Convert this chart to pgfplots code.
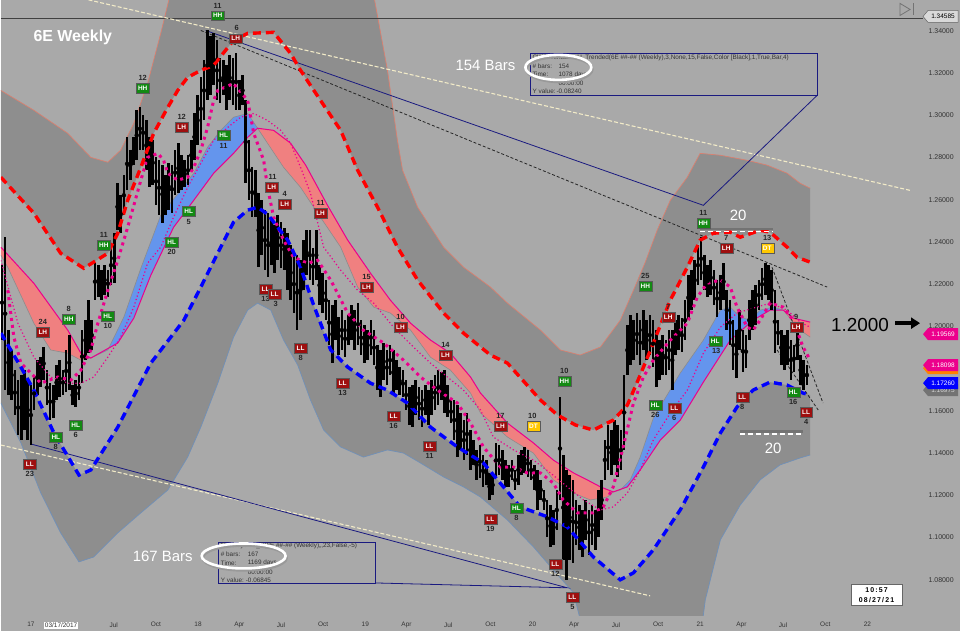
\documentclass[border=0pt]{standalone}
\usepackage{pgfplots}
\pgfplotsset{compat=1.18}
\usepackage{pgfplotstable}
\usepgfplotslibrary{fillbetween}
\usetikzlibrary{arrows.meta}
\usepackage{fontspec}
\setmainfont{Liberation Sans}

\definecolor{bgc}{HTML}{A9A9A9}
\definecolor{band}{HTML}{8E8E8E}
\definecolor{cloudpink}{HTML}{F08080}
\definecolor{cloudblue}{HTML}{6495ED}
\definecolor{tagg}{HTML}{138A13}
\definecolor{tagr}{HTML}{9E0F0F}
\definecolor{tagy}{HTML}{FFC800}
\definecolor{navy}{HTML}{1A1A80}
\definecolor{cream}{HTML}{F2EBC8}
\definecolor{salmon}{HTML}{D98070}
\definecolor{steel}{HTML}{7090B8}

\tikzset{fill between/on layer=main}

% weekly bars: week index (0 = 1 Jan 2017), high, low
\pgfplotstableread{
w hi lo
-9 1.2290 1.1935
-8 1.2422 1.1698
-7 1.1982 1.1675
-6 1.1888 1.1651
-5 1.1793 1.1580
-4 1.1746 1.1485
-3 1.1769 1.1462
-2 1.1793 1.1509
-1 1.1746 1.1462
0 1.1722 1.1438
1 1.1760 1.1604
2 1.1840 1.1675
3 1.1854 1.1712
4 1.1902 1.1746
5 1.1793 1.1627
6 1.1731 1.1556
7 1.1722 1.1566
8 1.1817 1.1651
9 1.1840 1.1665
10 1.1793 1.1675
11 1.1888 1.1689
12 1.1958 1.1698
13 1.1722 1.1627
14 1.1746 1.1618
15 1.1769 1.1651
16 1.1982 1.1731
17 1.2029 1.1840
18 1.2124 1.1873
19 1.2029 1.1888
20 1.2299 1.2124
21 1.2290 1.2138
22 1.2266 1.2124
23 1.2290 1.2148
24 1.2266 1.2138
25 1.2384 1.2195
26 1.2441 1.2204
27 1.2677 1.2455
28 1.2621 1.2441
29 1.2715 1.2526
30 1.2895 1.2644
31 1.2834 1.2692
32 1.2895 1.2763
33 1.3023 1.2786
34 1.3037 1.2834
35 1.2999 1.2834
36 1.2975 1.2739
37 1.2895 1.2658
38 1.2881 1.2668
39 1.2800 1.2573
40 1.2786 1.2526
41 1.2763 1.2488
42 1.2715 1.2526
43 1.2772 1.2550
44 1.2763 1.2536
45 1.2834 1.2621
46 1.2867 1.2630
47 1.2810 1.2644
48 1.2786 1.2658
49 1.2810 1.2668
50 1.2881 1.2739
51 1.3008 1.2786
52 1.3094 1.2857
53 1.3179 1.2881
54 1.3259 1.2975
55 1.3401 1.3070
56 1.3377 1.3094
57 1.3387 1.3141
58 1.3354 1.3070
59 1.3273 1.3056
60 1.3259 1.3094
61 1.3236 1.3023
62 1.3283 1.3070
63 1.3269 1.3046
64 1.3292 1.3023
65 1.3165 1.3023
66 1.3188 1.3046
67 1.3070 1.2677
68 1.2881 1.2597
69 1.2753 1.2517
70 1.2739 1.2517
71 1.2630 1.2280
72 1.2597 1.2337
73 1.2550 1.2266
74 1.2536 1.2233
75 1.2502 1.2290
76 1.2479 1.2252
77 1.2526 1.2313
78 1.2493 1.2275
79 1.2465 1.2266
80 1.2441 1.2171
81 1.2384 1.2124
82 1.2337 1.2063
83 1.2337 1.1982
84 1.2313 1.2029
85 1.2408 1.2171
86 1.2455 1.2242
87 1.2455 1.2219
88 1.2370 1.2195
89 1.2455 1.2219
90 1.2290 1.2100
91 1.2252 1.2063
92 1.2219 1.2029
93 1.2124 1.1911
94 1.2100 1.1826
95 1.2124 1.1935
96 1.2044 1.1864
97 1.2077 1.1888
98 1.2029 1.1854
99 1.2053 1.1911
100 1.2100 1.1935
101 1.2077 1.1888
102 1.2110 1.1911
103 1.2029 1.1864
104 1.2006 1.1826
105 1.1982 1.1840
106 1.2029 1.1864
107 1.1982 1.1817
108 1.1911 1.1698
109 1.1888 1.1665
110 1.1921 1.1746
111 1.1888 1.1722
112 1.1911 1.1769
113 1.1888 1.1675
114 1.1840 1.1698
115 1.1807 1.1675
116 1.1793 1.1665
117 1.1746 1.1604
118 1.1712 1.1533
119 1.1722 1.1523
120 1.1746 1.1580
121 1.1712 1.1556
122 1.1698 1.1523
123 1.1722 1.1580
124 1.1698 1.1533
125 1.1746 1.1580
126 1.1769 1.1604
127 1.1793 1.1627
128 1.1784 1.1651
129 1.1793 1.1590
130 1.1722 1.1571
131 1.1651 1.1542
132 1.1651 1.1462
133 1.1627 1.1381
134 1.1590 1.1415
135 1.1556 1.1367
136 1.1590 1.1391
137 1.1509 1.1320
138 1.1462 1.1344
139 1.1415 1.1273
140 1.1438 1.1282
141 1.1391 1.1240
142 1.1367 1.1249
143 1.1306 1.1178
144 1.1296 1.1202
145 1.1448 1.1282
146 1.1438 1.1296
147 1.1415 1.1273
148 1.1367 1.1240
149 1.1344 1.1240
150 1.1367 1.1273
151 1.1320 1.1225
152 1.1391 1.1249
153 1.1415 1.1296
154 1.1429 1.1306
155 1.1415 1.1287
156 1.1367 1.1273
157 1.1344 1.1225
158 1.1320 1.1131
159 1.1273 1.1178
160 1.1225 1.1131
161 1.1178 1.1003
162 1.1154 1.0956
163 1.1131 1.0965
164 1.1225 1.1036
165 1.1665 1.1178
166 1.1391 1.0894
167 1.1320 1.0800
168 1.1296 1.0894
169 1.1273 1.0880
170 1.1178 1.0965
171 1.1154 1.0942
172 1.1131 1.0908
173 1.1178 1.0989
174 1.1131 1.0918
175 1.1154 1.0965
176 1.1131 1.0942
177 1.1225 1.1003
178 1.1273 1.1083
179 1.1462 1.1273
180 1.1533 1.1320
181 1.1509 1.1296
182 1.1556 1.1344
183 1.1533 1.1287
184 1.1509 1.1320
185 1.1769 1.1415
186 1.2006 1.1769
187 1.2053 1.1817
188 1.2029 1.1840
189 1.2063 1.1864
190 1.2029 1.1817
191 1.2077 1.1888
192 1.2029 1.1840
193 1.2053 1.1864
194 1.2029 1.1807
195 1.1982 1.1712
196 1.1935 1.1746
197 1.1958 1.1769
198 1.1935 1.1769
199 1.1982 1.1793
200 1.1982 1.1698
201 1.2029 1.1864
202 1.2053 1.1888
203 1.2039 1.1878
204 1.2124 1.1935
205 1.2242 1.2029
206 1.2266 1.2077
207 1.2313 1.2124
208 1.2384 1.2195
209 1.2422 1.2219
210 1.2337 1.2171
211 1.2290 1.2138
212 1.2313 1.2148
213 1.2266 1.2100
214 1.2219 1.2044
215 1.2242 1.2077
216 1.2299 1.2124
217 1.2171 1.1982
218 1.2124 1.1911
219 1.2029 1.1793
220 1.1982 1.1755
221 1.2077 1.1888
222 1.1982 1.1784
223 1.1958 1.1802
224 1.2124 1.1935
225 1.2171 1.1982
226 1.2195 1.2006
227 1.2219 1.2077
228 1.2275 1.2124
229 1.2299 1.2148
230 1.2290 1.2124
231 1.2266 1.2077
232 1.2171 1.1873
233 1.2029 1.1911
234 1.1982 1.1817
235 1.1958 1.1793
236 1.1982 1.1817
237 1.1935 1.1746
238 1.1911 1.1784
239 1.1982 1.1840
240 1.1864 1.1722
241 1.1840 1.1698
242 1.1817 1.1722
}\bars

% upper band (red dashed)
\pgfplotstableread{
w p
-9.35 1.2706
0.93 1.2536
9.3 1.2346
16.5 1.2275
24.0 1.2346
27.1 1.2441
30.2 1.2597
34.3 1.2753
38.3 1.2914
42.7 1.3037
45.8 1.3117
48.9 1.3179
53.0 1.3212
57.0 1.3236
63.2 1.3354
67.6 1.3387
75.7 1.3392
81.0 1.3292
84.1 1.3212
90.3 1.3070
96.6 1.2928
101.9 1.2739
108.1 1.2564
114.3 1.2375
120.6 1.2219
128.7 1.2063
134.9 1.1968
143.3 1.1864
148.6 1.1826
158.9 1.1651
164.2 1.1580
169.8 1.1533
175.4 1.1509
181.6 1.1556
186.0 1.1627
190.0 1.1769
194.1 1.1921
199.4 1.2124
204.7 1.2280
208.7 1.2408
212.8 1.2441
218.1 1.2446
221.2 1.2422
227.4 1.2455
230.5 1.2446
235.8 1.2375
238.9 1.2327
243.0 1.2304
}\redband

% lower band (blue dashed)
\pgfplotstableread{
w p
-9.35 1.1968
-3.1 1.1807
0.93 1.1698
7.2 1.1495
15.0 1.1296
18.7 1.1320
27.1 1.1523
37.4 1.1826
47.7 1.2029
53.0 1.2186
59.2 1.2375
63.2 1.2493
67.6 1.2550
70.7 1.2564
73.8 1.2531
80.1 1.2408
84.1 1.2280
88.2 1.2100
93.5 1.1888
98.8 1.1807
105.9 1.1731
111.2 1.1698
117.4 1.1637
124.6 1.1523
133.0 1.1429
141.1 1.1353
152.6 1.1145
161.1 1.1098
167.3 1.1050
175.4 1.0908
183.8 1.0800
187.9 1.0833
194.1 1.0942
202.5 1.1131
209.7 1.1334
215.0 1.1495
220.2 1.1618
225.2 1.1698
230.5 1.1736
235.8 1.1722
240.8 1.1684
243.0 1.1675
}\blueband

% outer upper envelope
\pgfplotstableread{
w p
-9.35 1.3117
0.93 1.3023
11.5 1.2914
18.7 1.2800
24.0 1.2777
28.0 1.2834
32.1 1.2961
36.4 1.3150
40.5 1.3387
43.0 1.3543
46.7 1.3827
102.5 1.3827
107.2 1.3543
111.2 1.3212
114.3 1.2881
115.9 1.2739
120.6 1.2564
128.7 1.2375
134.9 1.2280
143.3 1.2186
148.6 1.2110
158.9 1.1982
165.1 1.1888
171.3 1.1864
177.6 1.1902
183.8 1.2029
187.9 1.2171
191.6 1.2304
195.3 1.2455
199.4 1.2597
204.7 1.2706
208.7 1.2819
215.0 1.2810
223.4 1.2786
229.6 1.2763
235.8 1.2725
239.9 1.2677
243.0 1.2654
}\outerup

% outer lower envelope
\pgfplotstableread{
w p
-9.35 1.1637
-3.1 1.1448
3.1 1.1211
9.3 1.1022
15.0 1.0885
19.6 1.0908
27.1 1.1022
34.3 1.1117
42.7 1.1225
48.9 1.1381
53.0 1.1523
58.3 1.1731
63.2 1.1949
67.6 1.2077
70.7 1.2110
74.8 1.2077
78.8 1.1935
83.2 1.1817
87.2 1.1651
91.3 1.1509
96.6 1.1429
103.7 1.1381
111.2 1.1415
116.2 1.1400
121.5 1.1353
128.7 1.1287
134.9 1.1240
140.2 1.1192
148.6 1.1083
156.7 1.0956
162.9 1.0847
169.2 1.0738
172.9 1.0516
208.7 1.0516
210.3 1.0705
215.0 1.0989
221.2 1.1154
227.4 1.1273
233.6 1.1344
239.9 1.1377
243.0 1.1391
}\outerlo

% cloud: magenta average
\pgfplotstableread{
w p
-9.35 1.2375
0.93 1.2204
11.5 1.1982
15.6 1.1873
18.7 1.1850
27.1 1.1921
32.1 1.2039
37.4 1.2242
44.5 1.2469
50.8 1.2597
57.0 1.2725
63.2 1.2819
67.6 1.2895
70.7 1.2938
75.7 1.2928
81.0 1.2867
85.7 1.2763
92.5 1.2573
98.8 1.2408
105.9 1.2252
112.1 1.2124
118.4 1.2015
124.6 1.1935
130.8 1.1873
137.1 1.1760
140.2 1.1684
148.6 1.1542
156.7 1.1448
162.9 1.1367
169.2 1.1306
173.5 1.1273
177.6 1.1240
181.6 1.1216
186.0 1.1240
190.0 1.1320
196.3 1.1462
202.5 1.1556
209.7 1.1736
218.1 1.1935
225.2 1.2029
230.5 1.2077
234.6 1.2077
237.7 1.2039
243.0 1.2020
}\cloudm

% cloud: grey average
\pgfplotstableread{
w p
-9.35 1.2337
-7.2 1.2280
0.93 1.2015
6.2 1.1888
11.5 1.1873
15.6 1.1840
18.7 1.1850
24.0 1.1888
29.0 1.2044
34.3 1.2275
40.5 1.2526
46.7 1.2644
50.8 1.2725
55.1 1.2848
59.2 1.2928
63.2 1.2990
67.6 1.3008
70.7 1.2938
73.8 1.2867
78.8 1.2753
84.1 1.2658
88.2 1.2564
96.6 1.2375
101.9 1.2186
106.9 1.2091
112.1 1.2063
118.4 1.1982
124.6 1.1854
130.8 1.1793
137.1 1.1684
140.2 1.1590
148.6 1.1476
156.7 1.1400
162.9 1.1273
169.2 1.1211
174.5 1.1178
179.8 1.1192
181.6 1.1216
183.8 1.1225
186.9 1.1273
190.0 1.1381
194.1 1.1566
202.5 1.1779
209.7 1.1935
215.0 1.2077
218.1 1.2091
221.2 1.2044
224.3 1.2029
227.4 1.2077
231.5 1.2091
234.6 1.2077
237.7 1.2020
239.9 1.1982
243.0 1.1949
}\cloudg

% fast average (thick dotted)
\pgfplotstableread{
w p
-7.2 1.2171
-5.3 1.1949
-3.1 1.1826
3.1 1.1731
8.4 1.1760
12.5 1.1746
15.6 1.1793
18.7 1.1888
20.9 1.2015
24.0 1.2171
27.1 1.2313
30.2 1.2469
34.3 1.2692
36.4 1.2800
39.6 1.2819
41.4 1.2786
42.7 1.2725
45.8 1.2692
48.9 1.2706
50.8 1.2753
53.0 1.2834
55.1 1.2942
57.0 1.3070
58.3 1.3117
63.2 1.3150
67.6 1.3070
69.5 1.2914
72.6 1.2786
73.8 1.2658
75.7 1.2517
78.8 1.2408
81.9 1.2327
86.3 1.2299
89.4 1.2313
93.5 1.2219
98.8 1.2063
103.7 1.1982
110.0 1.1921
116.2 1.1840
121.5 1.1760
126.8 1.1698
133.0 1.1637
137.1 1.1542
141.1 1.1429
146.4 1.1334
150.5 1.1334
154.8 1.1306
158.9 1.1306
162.9 1.1258
166.0 1.1178
170.4 1.1117
175.4 1.1117
178.5 1.1145
181.6 1.1240
184.7 1.1429
187.9 1.1637
191.0 1.1760
194.1 1.1840
199.4 1.1935
204.7 1.2015
207.8 1.2138
210.9 1.2204
215.0 1.2219
218.1 1.2186
220.2 1.2091
223.4 1.1996
225.2 1.1982
227.4 1.2029
230.5 1.2110
234.6 1.2091
237.7 1.2029
240.8 1.1902
243.0 1.1840
}\fastma

% medium average (thin dotted)
\pgfplotstableread{
w p
-9.35 1.2313
-4.05 1.2015
0.93 1.1854
6.2 1.1760
11.5 1.1731
15.6 1.1731
19.6 1.1760
24.0 1.1854
28.0 1.1949
32.1 1.2091
36.4 1.2299
40.5 1.2375
44.5 1.2517
48.9 1.2658
53.0 1.2772
57.0 1.2881
61.4 1.2942
65.4 1.2990
69.5 1.3008
73.8 1.2975
77.9 1.2928
81.0 1.2867
84.1 1.2753
87.2 1.2630
91.3 1.2375
96.6 1.2266
101.9 1.2171
106.9 1.2110
113.1 1.1996
119.3 1.1902
124.6 1.1826
129.9 1.1760
134.9 1.1698
140.2 1.1604
144.2 1.1476
150.5 1.1415
156.7 1.1367
162.0 1.1306
167.3 1.1240
172.3 1.1178
177.6 1.1131
181.6 1.1145
186.0 1.1211
190.0 1.1320
194.1 1.1462
199.4 1.1590
204.7 1.1698
209.7 1.1873
215.0 1.1996
220.2 1.2063
225.2 1.2086
230.5 1.2110
235.8 1.2077
239.9 1.2020
243.0 1.1996
}\medma

\tikzset{
  tagbox/.style={text=white, font=\fontsize{6.5}{7}\selectfont\bfseries, inner sep=0.6bp,
    minimum width=13bp, minimum height=9.5bp, draw=white!35!black, line width=0.3bp},
  numtxt/.style={text=black!85, font=\fontsize{7.5}{8}\selectfont\bfseries, inner sep=0pt},
  info/.style={anchor=west, inner sep=0pt, text=black!80, font=\fontsize{6.4}{7}\selectfont}
}
\newcommand\tg[4]{\node[tagbox, fill=#1] at (#2,#3) {#4};}
\newcommand\nm[3]{\node[numtxt] at (#1,#2) {#3};}
\newcommand\flag[4]{%
  \fill[#2] (923,#1) -- (928,{#1-6}) -- (958,{#1-6}) -- (958,{#1+6}) -- (928,{#1+6}) -- cycle;
  \node[text=#3, font=\fontsize{6.5}{7}\selectfont, inner sep=0pt] at (943,#1) {#4};}

\begin{document}
\begin{tikzpicture}
\begin{scope}[x=1bp,y=-1bp]
  \path[use as bounding box] (0,0) rectangle (960,631);
  \fill[bgc] (0,0) rectangle (960,631);
\end{scope}

\begin{axis}[
  at={(0,0)}, anchor=north west,
  scale only axis, width=923bp, height=616bp,
  xmin=-9.35, xmax=278.2, ymin=1.0629, ymax=1.3543,
  axis x line*=bottom, axis y line*=right,
  axis line style={draw=black!70, line width=0.9bp},
  tick align=outside, major tick length=3bp,
  tick style={black!70, line width=0.6bp},
  ytick={1.08,1.10,1.12,1.14,1.16,1.20,1.22,1.24,1.26,1.28,1.30,1.32,1.34},
  extra y ticks={1.18}, extra y tick labels={},
  yticklabel style={font=\fontsize{7}{8}\selectfont, text=black!80, xshift=-1bp,
    /pgf/number format/.cd, fixed, fixed zerofill, precision=5, assume math mode=true},
  xtick={0,12.86,25.86,39,52.14,65,78,91.14,104.29,117.14,130.14,143.29,156.43,169.43,182.43,195.57,208.71,221.57,234.57,247.71,260.86},
  xticklabels={17,{\makebox[0pt]{\hspace*{-22bp}\setlength{\fboxsep}{0.8bp}\colorbox{white}{03/17/2017}}},Jul,Oct,18,Apr,Jul,Oct,19,Apr,Jul,Oct,20,Apr,Jul,Oct,21,Apr,Jul,Oct,22},
  xticklabel style={font=\fontsize{6.5}{7}\selectfont, text=black!80, yshift=0bp},
]
% envelopes
\addplot[draw=none, name path=OU] table[x=w, y=p] {\outerup};
\addplot[draw=none, name path=OL] table[x=w, y=p] {\outerlo};
\addplot[draw=none, name path=R] table[x=w, y=p] {\redband};
\addplot[draw=none, name path=B] table[x=w, y=p] {\blueband};
\addplot[band] fill between[of=R and OU];
\addplot[band] fill between[of=B and OL];
\addplot[salmon, line width=0.7bp] table[x=w, y=p] {\outerup};
\addplot[steel, line width=0.7bp] table[x=w, y=p] {\outerlo};

% cloud
\addplot[draw=none, name path=M] table[x=w, y=p] {\cloudm};
\addplot[draw=none, name path=G] table[x=w, y=p] {\cloudg};
\addplot[cloudpink] fill between[of=M and G, soft clip={domain=-10:18.7}];
\addplot[cloudblue] fill between[of=M and G, soft clip={domain=18.7:70.7}];
\addplot[cloudpink] fill between[of=M and G, soft clip={domain=70.7:181.6}];
\addplot[cloudblue] fill between[of=M and G, soft clip={domain=181.6:234.6}];
\addplot[cloudpink] fill between[of=M and G, soft clip={domain=234.6:244}];
\addplot[black!45, line width=0.6bp] table[x=w, y=p] {\cloudg};
\addplot[magenta, line width=1bp] table[x=w, y=p] {\cloudm};

% trend lines
\addplot[black!75, line width=0.7bp] coordinates {(-9.35,1.34585) (278.2,1.34585)};
\addplot[cream, line width=1.1bp, dash pattern=on 4bp off 2bp] coordinates {(-9.35,1.3642) (274.1,1.2644)};
\addplot[cream, line width=1.1bp, dash pattern=on 4bp off 2bp] coordinates {(-9.35,1.1438) (193.1,1.0724)};
\addplot[navy, line width=0.8bp] coordinates {(54.5,1.3401) (209.7,1.2573) (245.2,1.3094)};
\addplot[navy, line width=0.8bp] coordinates {(0,1.1443) (167.3,1.0762) (107.5,1.0785)};
\addplot[black!85, line width=0.8bp, dash pattern=on 3bp off 2bp] coordinates {(53.0,1.3401) (248.3,1.2186)};
\addplot[black!85, line width=0.8bp, dash pattern=on 3bp off 2bp] coordinates {(231.1,1.2280) (247.0,1.1637)};
\addplot[black!85, line width=0.8bp, dash pattern=on 3bp off 2bp] coordinates {(232.7,1.1888) (245.5,1.1604)};

% price bars
\addplot[only marks, mark=none, forget plot,
  error bars/.cd, y dir=both, y explicit, error mark=none,
  error bar style={line width=2.6bp, black}]
  table[x=w, y expr={(\thisrow{hi}+\thisrow{lo})/2}, y error expr={(\thisrow{hi}-\thisrow{lo})/2}] {\bars};

% averages and bands
\addplot[magenta, line width=1.2bp, dash pattern=on 1.2bp off 2.4bp] table[x=w, y=p] {\medma};
\addplot[magenta, line width=3bp, dash pattern=on 3bp off 4bp] table[x=w, y=p] {\fastma};
\addplot[red, line width=3.4bp, dash pattern=on 8bp off 5bp] table[x=w, y=p] {\redband};
\addplot[blue, line width=3.4bp, dash pattern=on 8bp off 5bp] table[x=w, y=p] {\blueband};

% "20" levels
\addplot[black!55, line width=2.5bp] coordinates {(208.7,1.2462) (231.5,1.2462)};
\addplot[black!55, line width=2.5bp] coordinates {(221.2,1.1502) (240.8,1.1502)};
\addplot[white, line width=1.6bp, dash pattern=on 5bp off 3bp] coordinates {(208.7,1.2450) (231.5,1.2450)};
\addplot[white, line width=1.6bp, dash pattern=on 5bp off 3bp] coordinates {(221.2,1.1490) (240.8,1.1490)};
\end{axis}

\begin{scope}[x=1bp,y=-1bp]
% swing labels
\tg{tagg}{217}{15}{HH} \nm{217}{5}{11}
\tg{tagr}{235}{38}{LH} \nm{236}{28}{6}
\tg{tagg}{142}{88}{HH} \nm{142}{78}{12}
\tg{tagr}{181}{127}{LH} \nm{181}{117}{12}
\tg{tagg}{223}{135}{HL} \nm{223}{146}{11}
\tg{tagr}{271}{187}{LH} \nm{272}{177}{11}
\tg{tagr}{284}{204}{LH} \nm{284}{194}{4}
\tg{tagr}{320}{213}{LH} \nm{320}{203}{11}
\tg{tagg}{188}{211}{HL} \nm{188}{222}{5}
\tg{tagg}{171}{242}{HL} \nm{171}{252}{20}
\tg{tagg}{103}{245}{HH} \nm{103}{235}{11}
\tg{tagr}{265}{289}{LL} \nm{265}{299}{13}
\tg{tagr}{274}{294}{LL} \nm{275}{304}{3}
\tg{tagg}{68}{319}{HH} \nm{68}{309}{8}
\tg{tagr}{42}{332}{LH} \nm{42}{322}{24}
\tg{tagg}{107}{316}{HL} \nm{107}{326}{10}
\tg{tagg}{75}{425}{HL} \nm{75}{435}{6}
\tg{tagg}{55}{437}{HL} \nm{55}{447}{8}
\tg{tagr}{29}{464}{LL} \nm{29}{474}{23}
\tg{tagr}{300}{348}{LL} \nm{300}{358}{8}
\tg{tagr}{366}{287}{LH} \nm{366}{277}{15}
\tg{tagr}{400}{327}{LH} \nm{400}{317}{10}
\tg{tagr}{445}{355}{LH} \nm{445}{345}{14}
\tg{tagr}{342}{383}{LL} \nm{342}{393}{13}
\tg{tagr}{393}{416}{LL} \nm{393}{426}{16}
\tg{tagr}{429}{446}{LL} \nm{429}{456}{11}
\tg{tagr}{500}{426}{LH} \nm{500}{416}{17}
\tg{tagy}{533}{426}{DT} \nm{532}{416}{10}
\tg{tagg}{564}{381}{HH} \nm{564}{371}{10}
\tg{tagg}{516}{508}{HL} \nm{516}{518}{8}
\tg{tagr}{490}{519}{LL} \nm{490}{529}{19}
\tg{tagr}{555}{564}{LL} \nm{555}{574}{12}
\tg{tagr}{572}{597}{LL} \nm{572}{607}{5}
\tg{tagg}{645}{286}{HH} \nm{645}{276}{25}
\tg{tagr}{668}{317}{LH} \nm{668}{307}{7}
\tg{tagg}{655}{405}{HL} \nm{655}{415}{26}
\tg{tagr}{674}{408}{LL} \nm{674}{418}{6}
\tg{tagg}{703}{223}{HH} \nm{703}{213}{11}
\tg{tagr}{726}{248}{LH} \nm{726}{238}{7}
\tg{tagy}{767}{248}{DT} \nm{767}{238}{13}
\tg{tagg}{715}{341}{HL} \nm{716}{351}{13}
\tg{tagr}{796}{327}{LH} \nm{796}{317}{9}
\tg{tagr}{742}{397}{LL} \nm{742}{407}{8}
\tg{tagg}{793}{392}{HL} \nm{793}{402}{16}
\tg{tagr}{806}{412}{LL} \nm{806}{422}{4}

% titles and notes
\node[text=white, font=\fontsize{16}{18}\selectfont\bfseries] at (72,37) {6E Weekly};
\node[text=white, font=\fontsize{15}{17}\selectfont] at (485,65) {154 Bars};
\node[text=white, font=\fontsize{15}{17}\selectfont] at (162,556) {167 Bars};
\node[text=white, font=\fontsize{15}{17}\selectfont] at (738,215) {20};
\node[text=white, font=\fontsize{15}{17}\selectfont] at (773,448) {20};
\node[text=black, font=\fontsize{19}{21}\selectfont] at (860,325) {1.2000};
\draw[black, line width=3.5bp, -{Triangle[length=9bp, width=11bp]}] (895,323) -- (920,323);

% measurement boxes
\draw[navy, line width=0.8bp] (530,53) rectangle (817,95);
\node[info] at (532,57) {CWCTrendBarsU\_Trended(6E \#\#-\#\# (Weekly),3,None,15,False,Color [Black],1,True,Bar,4)};
\node[info] at (532,66) {\# bars:}; \node[info] at (558,66) {154};
\node[info] at (532,74) {Time:}; \node[info] at (558,74) {1078 days};
\node[info] at (558,83) {00:00:00};
\node[info] at (532,91) {Y value:}; \node[info] at (556,91) {-0.08240};
\draw[black!40, line width=2.6bp] (559,69) ellipse [x radius=33bp, y radius=12.5bp];
\draw[white, line width=2.6bp] (558,67) ellipse [x radius=33bp, y radius=12.5bp];

\draw[navy, line width=0.8bp] (218,542) rectangle (375,583);
\node[info] at (220,546) {CWCCycleS\_R(6E \#\#-\#\# (Weekly),,,23,False,-5)};
\node[info] at (220,554) {\# bars:}; \node[info] at (247,554) {167};
\node[info] at (220,563) {Time:}; \node[info] at (247,563) {1169 days};
\node[info] at (247,572) {00:00:00};
\node[info] at (220,580) {Y value:}; \node[info] at (245,580) {-0.06845};
\draw[black!40, line width=2.6bp] (244,558) ellipse [x radius=42bp, y radius=12.5bp];
\draw[white, line width=2.6bp] (243,556) ellipse [x radius=42bp, y radius=12.5bp];

% price flags
\fill[white!85!black] (923,16) -- (928,10) -- (958,10) -- (958,22) -- (928,22) -- cycle;
\draw[black!60, line width=0.5bp] (923,16) -- (928,10) -- (958,10) -- (958,22) -- (928,22) -- cycle;
\node[text=black, font=\fontsize{6.5}{7}\selectfont, inner sep=0pt] at (943,16) {1.34585};
\flag{368}{orange}{white}{}
\flag{365}{magenta}{white}{1.18098}
\flag{334}{magenta}{white}{1.19569}
\flag{390}{black!55}{white!85!black}{1.16975}
\flag{383}{blue}{white}{1.17260}

% clock and icon
\draw[fill=white, draw=black!60, line width=0.5bp] (851,584) rectangle (902,605);
\node[font=\fontsize{7}{8}\selectfont\bfseries, inner sep=0pt] at (876.5,590) {1\,0\,:\,5\,7};
\node[font=\fontsize{7}{8}\selectfont\bfseries, inner sep=0pt] at (876.5,600) {0\,8\,/\,2\,7\,/\,2\,1};
\draw[black!55, line width=0.8bp] (900,3) -- (900,15) -- (910,9) -- cycle;
\draw[black!55, line width=1bp] (913,3) -- (913,15);
\end{scope}
\end{tikzpicture}
\end{document}
